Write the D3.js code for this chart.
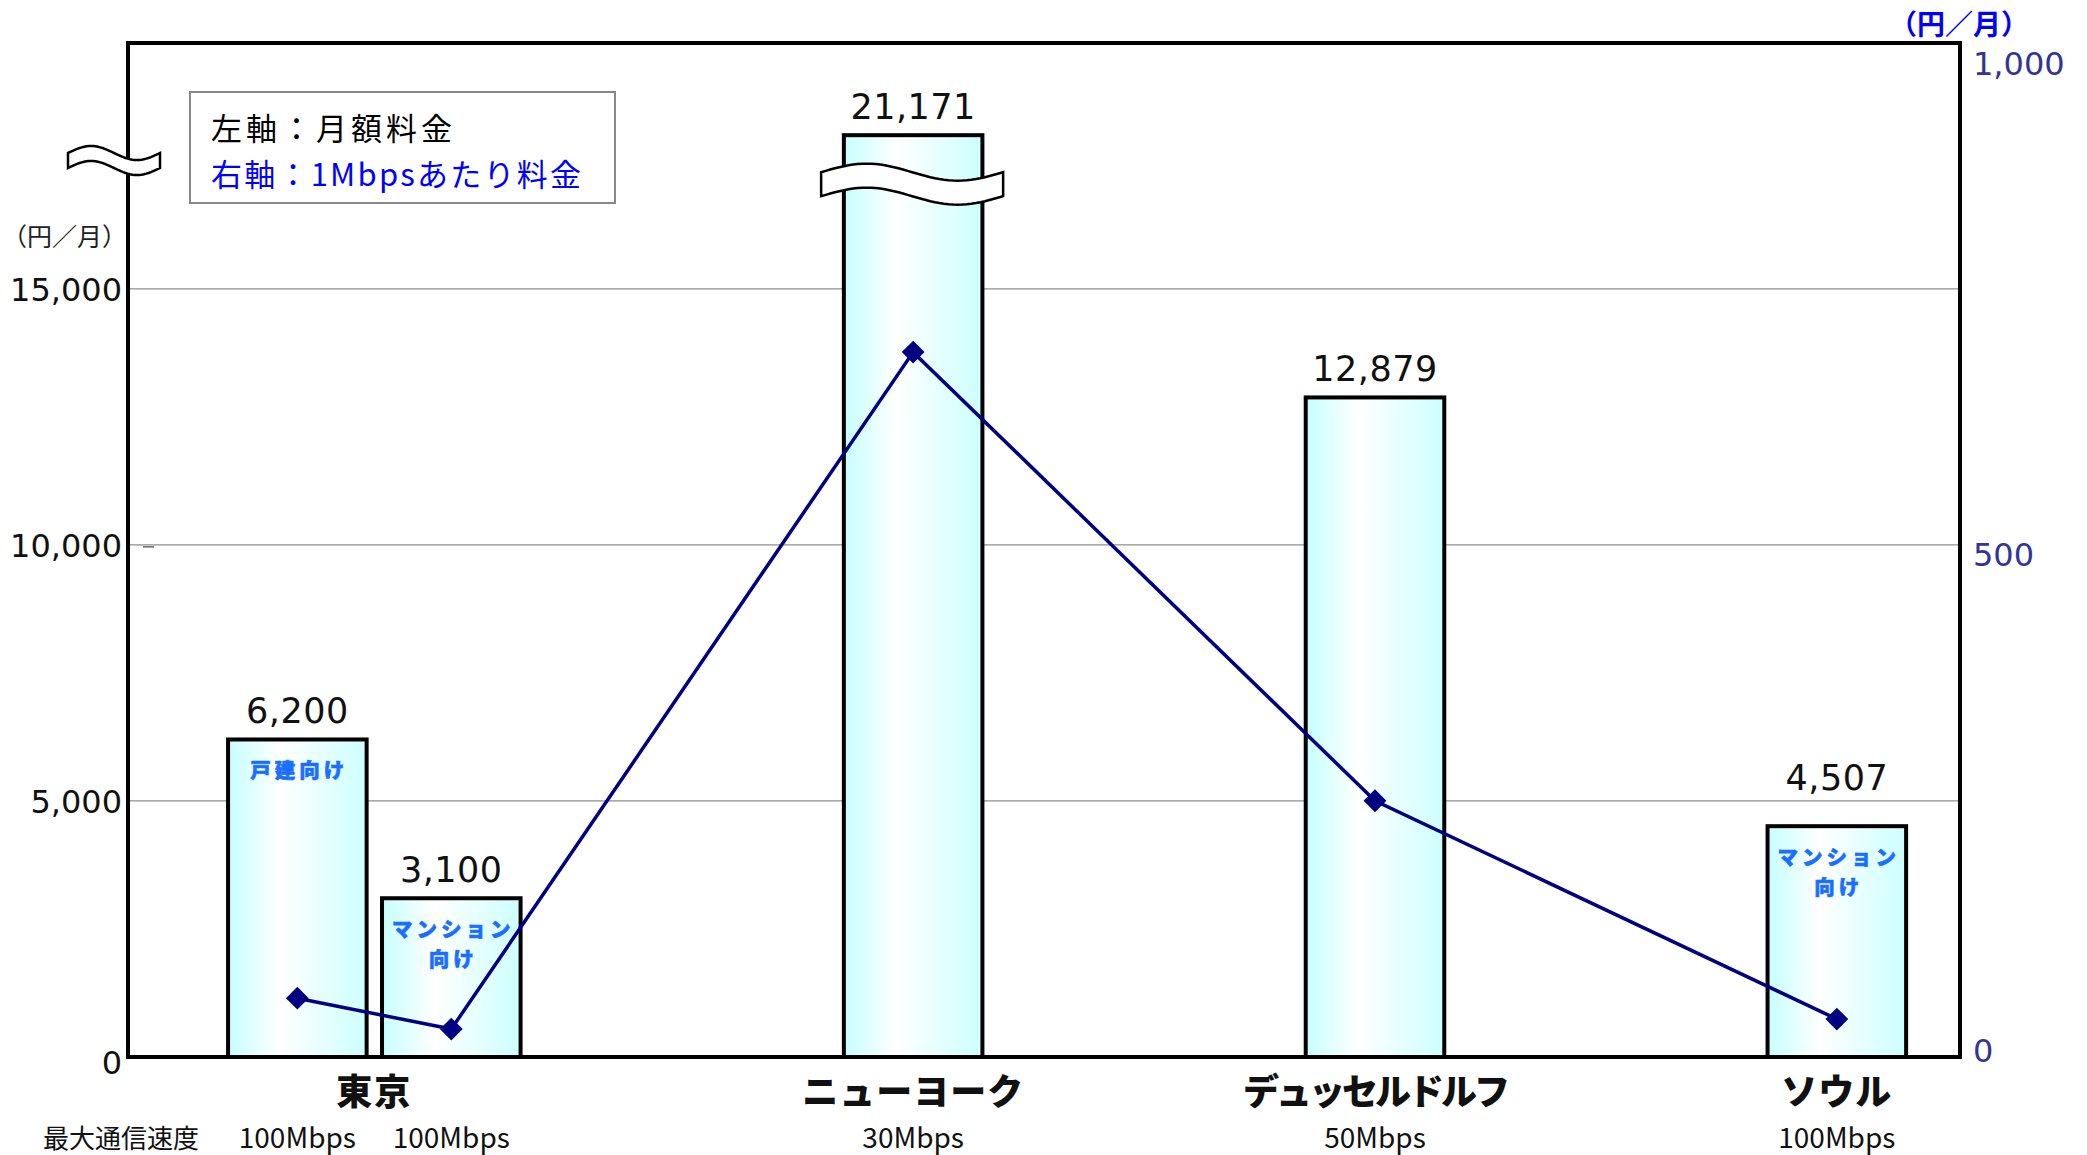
<!DOCTYPE html>
<html><head><meta charset="utf-8">
<script src="https://cdn.jsdelivr.net/npm/d3@7"></script>
<style>
html,body{margin:0;padding:0;background:#fff;}
svg{display:block;}
</style></head>
<body>
<svg id="chart" width="2087" height="1155"></svg>
<script>
// ---------------- DATA ----------------
const cities      = ["東京", "ニューヨーク", "デュッセルドルフ", "ソウル"];
const barCity     = ["東京", "東京", "ニューヨーク", "デュッセルドルフ", "ソウル"];
const barNote     = ["戸建向け", "マンション|向け", "", "", "マンション|向け"];
const monthlyFee  = [6200, 3100, 21171, 12879, 4507];      // 左軸：月額料金 (円/月)
const feePerMbps  = [59, 28, 707, 257, 38];                 // 右軸：1Mbpsあたり料金 (円/月)
const maxSpeed    = ["100Mbps", "100Mbps", "30Mbps", "50Mbps", "100Mbps"];
const leftTicks   = [0, 5000, 10000, 15000];
const rightTicks  = [0, 500, 1000];
const leftMax     = 19800;   // top of left axis
const breakCap    = 18000;   // bars above this are drawn broken at this level
const rightMax    = 1000;

// ---------------- LAYOUT ----------------
const svg = d3.select("#chart");
const L = 128, R = 1960, T = 43, B = 1057;
const GROUP_GAP = 3;

// slot index per bar (adjacent bars in same city, gap between cities)
const slots = [];
barCity.forEach((c, i) => {
  if (i === 0) slots.push(0);
  else slots.push(slots[i - 1] + (c === barCity[i - 1] ? 1 : GROUP_GAP));
});
const x = d3.scaleLinear().domain([-1.1, d3.max(slots) + 0.8]).range([L, R]);
const step = x(1) - x(0);
const bw = step * 0.9;

const yL = d3.scaleLinear().domain([0, leftMax]).range([B, T]);
const yR = d3.scaleLinear().domain([0, rightMax]).range([B, 60]);

const numFont = "'DejaVu Sans', Verdana, sans-serif";
const jpFont = "'Noto Sans CJK JP', 'Noto Sans', sans-serif";

// gradient
const defs = svg.append("defs");
const grad = defs.append("linearGradient").attr("id", "barGrad")
  .attr("x1", "0%").attr("x2", "100%").attr("y1", "0%").attr("y2", "0%");
grad.append("stop").attr("offset", "0%").attr("stop-color", "#c6ffff");
grad.append("stop").attr("offset", "38%").attr("stop-color", "#ffffff");
grad.append("stop").attr("offset", "100%").attr("stop-color", "#cdffff");

// gridlines
svg.append("g").selectAll("line").data(leftTicks.filter(d => d > 0)).join("line")
  .attr("x1", L).attr("x2", R).attr("y1", d => yL(d)).attr("y2", d => yL(d))
  .attr("stroke", "#8f8f8f").attr("stroke-width", 1.2);

// stray tick near 10,000
svg.append("line").attr("x1", L + 15).attr("x2", L + 26)
  .attr("y1", yL(10000) + 2).attr("y2", yL(10000) + 2)
  .attr("stroke", "#444").attr("stroke-width", 1.2);

// left axis labels
const leftAxis = d3.axisLeft(yL).tickValues(leftTicks).tickSize(0).tickPadding(6)
  .tickFormat(d3.format(","));
const gL = svg.append("g").attr("transform", `translate(${L},0)`).call(leftAxis);
gL.select(".domain").remove();
gL.selectAll("text").attr("font-family", numFont).attr("font-size", 32).attr("fill", "#111")
  .attr("dy", d => d === 0 ? "0.5em" : "0.36em");

// right axis labels
const rightAxis = d3.axisRight(yR).tickValues(rightTicks).tickSize(0).tickPadding(13)
  .tickFormat(d3.format(","));
const gR = svg.append("g").attr("transform", `translate(${R},0)`).call(rightAxis);
gR.select(".domain").remove();
gR.selectAll("text").attr("font-family", numFont).attr("font-size", 32).attr("fill", "#333399")
  .attr("dy", d => d === 0 ? "0.15em" : d === 500 ? "0.22em" : "0.45em");

// unit labels
svg.append("text").attr("x", 2).attr("y", 235).attr("dominant-baseline", "central")
  .attr("font-family", jpFont).attr("font-size", 25).attr("fill", "#222").text("（円／月）");
svg.append("text").attr("x", 1959).attr("y", 23).attr("dominant-baseline", "central")
  .attr("text-anchor", "middle")
  .attr("font-family", jpFont).attr("font-weight", "bold").attr("font-size", 28)
  .attr("fill", "#0000ff").text("（円／月）");

// bars
const bars = monthlyFee.map((v, i) => ({ v, i, slot: slots[i] }));
svg.append("g").selectAll("rect").data(bars).join("rect")
  .attr("x", d => x(d.slot) - bw / 2)
  .attr("width", bw)
  .attr("y", d => yL(Math.min(d.v, breakCap)))
  .attr("height", d => B - yL(Math.min(d.v, breakCap)))
  .attr("fill", "url(#barGrad)")
  .attr("stroke", "#000").attr("stroke-width", 4);

// value labels (the Seoul label sits a little higher in the original)
svg.append("g").selectAll("text").data(bars).join("text")
  .attr("x", d => x(d.slot))
  .attr("y", d => yL(Math.min(d.v, breakCap)) - (barCity[d.i] === "ソウル" ? 36 : 16))
  .attr("text-anchor", "middle")
  .attr("font-family", numFont).attr("font-size", 35).attr("fill", "#111")
  .attr("letter-spacing", 0.5)
  .text(d => d3.format(",")(d.v));

// bar notes
bars.forEach(d => {
  const note = barNote[d.i];
  if (!note) return;
  const lines = note.split("|");
  const top = yL(Math.min(d.v, breakCap));
  lines.forEach((ln, k) => {
    svg.append("text").attr("x", x(d.slot) + 2).attr("y", top + 30 + k * 30)
      .attr("dominant-baseline", "central").attr("text-anchor", "middle")
      .attr("font-family", jpFont).attr("font-weight", "900").attr("font-size", 20.5)
      .attr("letter-spacing", 4)
      .attr("stroke", "#1a6fff").attr("stroke-width", 0.6)
      .attr("fill", "#1a6fff").text(ln);
  });
});

// ribbon (break mark) generator
function ribbon(x0, x1, yTop, thick, amp) {
  const n = 40, up = [], lo = [];
  for (let k = 0; k <= n; k++) {
    const t = k / n;
    const xx = x0 + (x1 - x0) * t;
    const yy = yTop - amp * Math.sin(2 * Math.PI * t);
    up.push([xx, yy]); lo.push([xx, yy + thick]);
  }
  const line = d3.line();
  return line(up) + "L" + line(lo.reverse()).slice(1) + "Z";
}

// break on the NY bar
bars.filter(d => d.v > breakCap).forEach(d => {
  const cx = x(d.slot);
  svg.append("path").attr("d", ribbon(cx - 92, cx + 90, yL(breakCap) + 37, 24, 8.5))
    .attr("fill", "#fff").attr("stroke", "#000").attr("stroke-width", 2.5);
});

// line series
const pts = feePerMbps.map((v, i) => [x(slots[i]), yR(v)]);
svg.append("path").attr("d", d3.line()(pts)).attr("fill", "none")
  .attr("stroke", "#000080").attr("stroke-width", 3.5);
svg.append("g").selectAll("path").data(pts).join("path")
  .attr("d", d3.symbol(d3.symbolSquare, 260))
  .attr("transform", d => `translate(${d[0]},${d[1]}) rotate(45)`)
  .attr("fill", "#000080");

// frame
svg.append("rect").attr("x", L).attr("y", T).attr("width", R - L).attr("height", B - T)
  .attr("fill", "none").attr("stroke", "#000").attr("stroke-width", 4);

// left axis break mark
svg.append("path").attr("d", ribbon(68, 160, 153, 15, 7))
  .attr("fill", "#fff").attr("stroke", "#000").attr("stroke-width", 2.5);

// legend
const lg = svg.append("g");
lg.append("rect").attr("x", 190).attr("y", 92).attr("width", 425).attr("height", 111)
  .attr("fill", "#fff").attr("stroke", "#888").attr("stroke-width", 2);
lg.append("text").attr("x", 211).attr("y", 126).attr("dominant-baseline", "central")
  .attr("font-family", jpFont).attr("font-size", 31).attr("fill", "#000")
  .attr("textLength", 241).attr("lengthAdjust", "spacing").text("左軸：月額料金");
lg.append("text").attr("x", 211).attr("y", 172).attr("dominant-baseline", "central")
  .attr("font-family", jpFont).attr("font-size", 31).attr("fill", "#0000ff")
  .attr("textLength", 370).attr("lengthAdjust", "spacing").text("右軸：1Mbpsあたり料金");

// city labels
cities.forEach(c => {
  const xs = slots.filter((s, i) => barCity[i] === c).map(s => x(s));
  svg.append("text").attr("x", d3.mean(xs)).attr("y", 1089)
    .attr("dominant-baseline", "central").attr("text-anchor", "middle")
    .attr("font-family", jpFont).attr("font-weight", "900").attr("font-size", 36)
    .attr("letter-spacing", c.length > 6 ? -3 : c.length > 2 ? 1 : 2)
    .attr("fill", "#111").text(c);
});

// speed labels
svg.append("text").attr("x", 43).attr("y", 1136).attr("dominant-baseline", "central")
  .attr("font-family", jpFont).attr("font-size", 26).attr("fill", "#111").text("最大通信速度");
svg.append("g").selectAll("text").data(maxSpeed).join("text")
  .attr("x", (d, i) => x(slots[i])).attr("y", 1136)
  .attr("dominant-baseline", "central").attr("text-anchor", "middle")
  .attr("font-family", jpFont).attr("font-size", 28).attr("fill", "#111").text(d => d);
</script>
</body></html>
